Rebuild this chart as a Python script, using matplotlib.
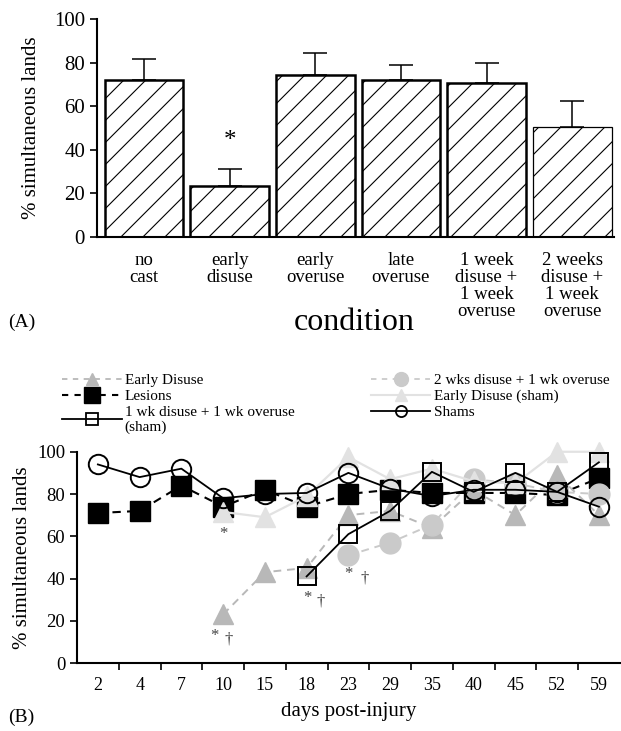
import matplotlib
matplotlib.use('Agg')
import matplotlib.pyplot as plt
from matplotlib.lines import Line2D
from matplotlib.collections import LineCollection
import numpy as np

plt.rcParams['font.family'] = ['Liberation Serif', 'DejaVu Serif']

nan = np.nan

# panel A
conditions = ['no\ncast', 'early\ndisuse', 'early\noveruse', 'late\noveruse',
              '1 week\ndisuse +\n1 week\noveruse', '2 weeks\ndisuse +\n1 week\noveruse']
pct_lands = [72, 23.5, 74.5, 72, 70.5, 50.5]
err_upper = [9.5, 7.5, 10, 7, 9.5, 12]

# panel B
days = ['2', '4', '7', '10', '15', '18', '23', '29', '35', '40', '45', '52', '59']
early_disuse = [nan, nan, nan, 23, 43, 45, 70, 72, 64, 82, 70, 89, 70]
two_wks = [nan, nan, nan, nan, nan, nan, 51, 57, 65.5, 87, 85, 81, 80]
lesions = [71, 72, 84, 74, 82, 74, 80, 82, 80.5, 80.5, 80.5, 79.5, 87.5]
early_sham = [nan, nan, nan, 71.5, 69, 79, 97.5, 87, 92, 86, 85, 100, 100]
wk1_sham = [nan, nan, nan, nan, nan, 41, 61, 72, 90.5, 81, 90, 81, 95]
shams = [94, 88, 92, 78, 80, 80.5, 90, 82.5, 79, 82, 82, 81, 74]

W_IN, H_IN = 6.21, 7.31
fig = plt.figure(figsize=(W_IN, H_IN), dpi=100)

# ---------- (A) bar chart ----------
posA = [0.156, 0.676, 0.833, 0.298]
axA = fig.add_axes(posA)
xa = np.arange(len(conditions))
lws = [1.8, 1.8, 1.8, 1.8, 1.8, 0.9]
bars = axA.bar(xa, pct_lands, width=0.92, color='white', edgecolor='black', zorder=2)
for b, lw in zip(bars, lws):
    b.set_linewidth(lw)

# sparse diagonal hatching (wider spacing than matplotlib's '/')
wpx = posA[2] * W_IN * 100
hpx = posA[3] * H_IN * 100
gap = 22
segs = [[(x0 / wpx, 0), ((x0 + hpx) / wpx, 1)] for x0 in np.arange(-hpx, wpx, gap)]
for b in bars:
    lc = LineCollection(segs, colors='black', linewidths=0.8,
                        transform=axA.transAxes, zorder=2.1)
    axA.add_collection(lc)
    lc.set_clip_path(b)

axA.errorbar(xa, pct_lands, yerr=[np.zeros(len(xa)), err_upper], fmt='none',
             ecolor='black', elinewidth=1.1, capsize=8.5, capthick=1.1, zorder=1)
axA.text(1, 44, '*', ha='center', va='center', fontsize=18)
axA.set_xlim(-0.55, 5.49)
axA.set_ylim(0, 100)
axA.set_yticks([0, 20, 40, 60, 80, 100])
axA.set_xticks(xa)
axA.set_xticklabels(conditions, fontsize=13.5, linespacing=1.0, va='top')
axA.tick_params(axis='x', length=0, pad=11)
axA.tick_params(axis='y', direction='out', length=5, width=1.2, labelsize=15)
axA.set_ylabel('% simultaneous lands', fontsize=15)
axA.yaxis.set_label_coords(-0.108, 0.5)
for s in ['top', 'right']:
    axA.spines[s].set_visible(False)
for s in ['left', 'bottom']:
    axA.spines[s].set_linewidth(1.5)
fig.text(0.57, 0.559, 'condition', ha='center', va='center', fontsize=23)
fig.text(0.013, 0.559, '(A)', ha='left', va='center', fontsize=14)

# ---------- (B) line chart ----------
axB = fig.add_axes([0.124, 0.093, 0.874, 0.289])
xb = np.arange(len(days))
g1 = '#b8b8b8'
g2 = '#cacaca'
g3 = '#e2e2e2'
axB.plot(xb, lesions, color='black', ls=(0, (4, 3)), lw=1.5, marker='s',
         ms=14, mfc='black', mec='black', clip_on=False, zorder=3)
axB.plot(xb, early_disuse, color=g1, ls=(0, (4, 3)), lw=1.4, marker='^',
         ms=15, mfc=g1, mec=g1, clip_on=False, zorder=4)
axB.plot(xb, two_wks, color=g2, ls=(0, (4, 3)), lw=1.4, marker='o',
         ms=15, mfc=g2, mec=g2, clip_on=False, zorder=4)
axB.plot(xb, early_sham, color=g3, ls='-', lw=1.6, marker='^',
         ms=14, mfc=g3, mec=g3, clip_on=False, zorder=5)
axB.plot(xb, wk1_sham, color='black', ls='-', lw=1.3, marker='s',
         ms=13, mfc='none', mec='black', mew=1.4, clip_on=False, zorder=6)
axB.plot(xb, shams, color='black', ls='-', lw=1.3, marker='o',
         ms=14, mfc='none', mec='black', mew=1.4, clip_on=False, zorder=6)

ann = '#444444'
axB.text(3.0, 61, '*', ha='center', va='center', fontsize=12, color=ann)
axB.text(2.8, 13, '*', ha='center', va='center', fontsize=12, color=ann)
axB.text(3.12, 11, '\u2020', ha='center', va='center', fontsize=12, color=ann)
axB.text(5.02, 31, '*', ha='center', va='center', fontsize=12, color=ann)
axB.text(5.33, 29, '\u2020', ha='center', va='center', fontsize=12, color=ann)
axB.text(6.0, 42, '*', ha='center', va='center', fontsize=12, color=ann)
axB.text(6.4, 40, '\u2020', ha='center', va='center', fontsize=12, color=ann)

axB.set_xlim(-0.5, 12.5)
axB.set_ylim(0, 100)
axB.set_yticks([0, 20, 40, 60, 80, 100])
axB.set_xticks(xb)
axB.set_xticklabels(days)
axB.set_xticks(np.arange(0.5, 12.5, 1), minor=True)
axB.tick_params(axis='x', which='major', length=0, pad=10, labelsize=13)
axB.tick_params(axis='x', which='minor', direction='out', length=5, width=1.2)
axB.tick_params(axis='y', direction='out', length=5, width=1.2, labelsize=13.5)
axB.set_ylabel('% simultaneous lands', fontsize=15, labelpad=4)
axB.set_xlabel('days post-injury', fontsize=15, labelpad=6)
for s in ['top', 'right']:
    axB.spines[s].set_visible(False)
for s in ['left', 'bottom']:
    axB.spines[s].set_linewidth(1.5)
fig.text(0.013, 0.018, '(B)', ha='left', va='center', fontsize=14)

handles = [
    Line2D([], [], color=g1, ls=(0, (3, 3)), lw=1.3, marker='^', ms=9, mfc=g1, mec=g1),
    Line2D([], [], color='black', ls=(0, (3, 3)), lw=1.5, marker='s', ms=12, mfc='black'),
    Line2D([], [], color='black', ls='-', lw=1.3, marker='s', ms=8, mfc='none', mec='black', mew=1.3),
    Line2D([], [], color=g2, ls=(0, (3, 3)), lw=1.3, marker='o', ms=10, mfc=g2, mec=g2),
    Line2D([], [], color=g3, ls='-', lw=1.5, marker='^', ms=9, mfc=g3, mec=g3),
    Line2D([], [], color='black', ls='-', lw=1.3, marker='o', ms=8, mfc='none', mec='black', mew=1.3),
]
labels = ['Early Disuse', 'Lesions', '1 wk disuse + 1 wk overuse\n(sham)',
          '2 wks disuse + 1 wk overuse', 'Early Disuse (sham)', 'Shams']
fig.legend(handles, labels, loc='upper left', bbox_to_anchor=(0.1, 0.489),
           ncol=2, frameon=False, fontsize=11, handlelength=3.9, handletextpad=0.2,
           columnspacing=5.0, labelspacing=0.15, borderpad=0, borderaxespad=0)

fig.savefig('out.png', dpi=100)
